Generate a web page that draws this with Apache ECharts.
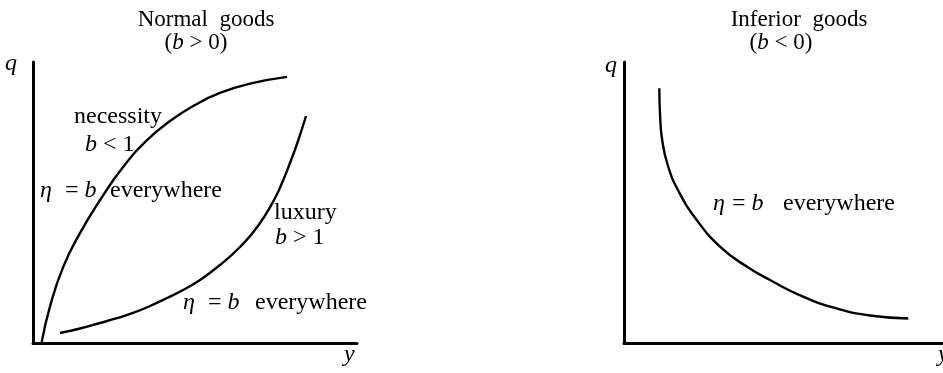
<!DOCTYPE html>
<html>
<head>
<meta charset="utf-8">
<script src="https://cdn.jsdelivr.net/npm/echarts@6/dist/echarts.min.js"></script>
<style>
  html, body { margin: 0; padding: 0; background: #fff; }
  #chart { width: 943px; height: 373px; }
</style>
</head>
<body>
<div id="chart"></div>
<script>
// Engel curves on a 0-100 scale for income (y) and quantity (q)
// normal goods (b > 0)
const necessityY = [2.7, 5.2, 9.3, 14.5, 20.7, 27.8, 35.2, 42.3, 50.0, 57.7, 67.0, 78.4]
const necessityQ = [0.4, 12.8, 27.0, 39.1, 50.9, 62.6, 72.2, 79.0, 84.7, 89.0, 92.3, 94.7]
const luxuryY = [8.33, 14.51, 20.68, 25.93, 30.86, 36.11, 41.36, 46.6, 51.54, 57.72, 63.89, 69.44, 74.38, 76.85, 79.32, 81.79, 84.26]
const luxuryQ = [3.56, 5.16, 7.12, 8.83, 10.68, 13.17, 16.01, 19.04, 22.42, 27.76, 34.16, 41.64, 50.89, 56.94, 64.06, 71.89, 80.78]
// inferior goods (b < 0)
const inferiorY = [11.07, 11.29, 11.97, 13.79, 17.24, 22.79, 30.09, 38.46, 45.77, 56.11, 66.68, 77.12, 89.12]
const inferiorQ = [90.64, 81.49, 72.24, 62.99, 53.74, 43.8, 34.3, 27.2, 22.4, 16.5, 12.3, 9.8, 8.7]

const font = '"Liberation Serif", "Times New Roman", serif'
const ink = '#000'
const titleSize = 23
const size = 24

const zip = (xs, ys) => xs.map((x, i) => [x, ys[i]])

// one styled text, {i|...} parts in italic
const note = (x, y, text, align, fs) => ({
  type: 'text',
  x: x,
  y: y,
  style: {
    text: text,
    fontFamily: font,
    fontSize: fs || size,
    fill: ink,
    align: align || 'left',
    verticalAlign: 'middle',
    rich: {
      i: { fontFamily: font, fontSize: fs || size, fontStyle: 'italic', fill: ink },
    },
  },
})

const axisBase = {
  type: 'value',
  min: 0,
  max: 100,
  axisLine: { show: true, onZero: false, lineStyle: { color: ink, width: 3 } },
  axisTick: { show: false },
  axisLabel: { show: false },
  splitLine: { show: false },
  nameLocation: 'end',
}
const nameStyle = { fontFamily: font, fontSize: size, fontStyle: 'italic', color: ink }

const curve = (data, idx) => ({
  type: 'line',
  data: data,
  xAxisIndex: idx,
  yAxisIndex: idx,
  smooth: 0.5,
  showSymbol: false,
  silent: true,
  lineStyle: { color: ink, width: 2.4 },
})

const chart = echarts.init(document.getElementById('chart'))
chart.setOption({
  animation: false,
  backgroundColor: '#fff',
  grid: [
    { left: 33, top: 62, width: 324, height: 281, outerBoundsMode: 'none' },
    { left: 624, top: 62, width: 319, height: 281, outerBoundsMode: 'none' },
  ],
  xAxis: [
    Object.assign({}, axisBase, {
      gridIndex: 0, name: 'y', nameGap: -13,
      nameTextStyle: Object.assign({ align: 'left', verticalAlign: 'top' }, nameStyle),
    }),
    Object.assign({}, axisBase, {
      gridIndex: 1, name: 'y', nameGap: -5,
      nameTextStyle: Object.assign({ align: 'left', verticalAlign: 'top' }, nameStyle),
    }),
  ],
  yAxis: [
    Object.assign({}, axisBase, {
      gridIndex: 0, name: 'q', nameGap: -2,
      nameTextStyle: Object.assign({ align: 'right', verticalAlign: 'middle', padding: [0, 16, 0, 0] }, nameStyle),
    }),
    Object.assign({}, axisBase, {
      gridIndex: 1, name: 'q', nameGap: -4,
      nameTextStyle: Object.assign({ align: 'right', verticalAlign: 'middle', padding: [0, 7, 0, 0] }, nameStyle),
    }),
  ],
  series: [
    curve(zip(necessityY, necessityQ), 0),
    curve(zip(luxuryY, luxuryQ), 0),
    curve(zip(inferiorY, inferiorQ), 1),
  ],
  graphic: [
    // left panel
    note(206, 20, 'Normal  goods', 'center', titleSize),
    note(196, 43, '({i|b} > 0)', 'center', titleSize),
    note(74, 117, 'necessity'),
    note(85, 145, '{i|b} < 1'),
    note(40, 191, '{i|η}'),
    note(65, 191, '= {i|b}'),
    note(110, 191, 'everywhere'),
    note(274, 213, 'luxury'),
    note(275, 238, '{i|b} > 1'),
    note(183, 303, '{i|η}'),
    note(208, 303, '= {i|b}'),
    note(255, 303, 'everywhere'),
    // right panel
    note(799, 20, 'Inferior  goods', 'center', titleSize),
    note(781, 43, '({i|b} < 0)', 'center', titleSize),
    note(713, 204, '{i|η}'),
    note(732, 204, '= {i|b}'),
    note(783, 204, 'everywhere'),
  ],
})
</script>
</body>
</html>
